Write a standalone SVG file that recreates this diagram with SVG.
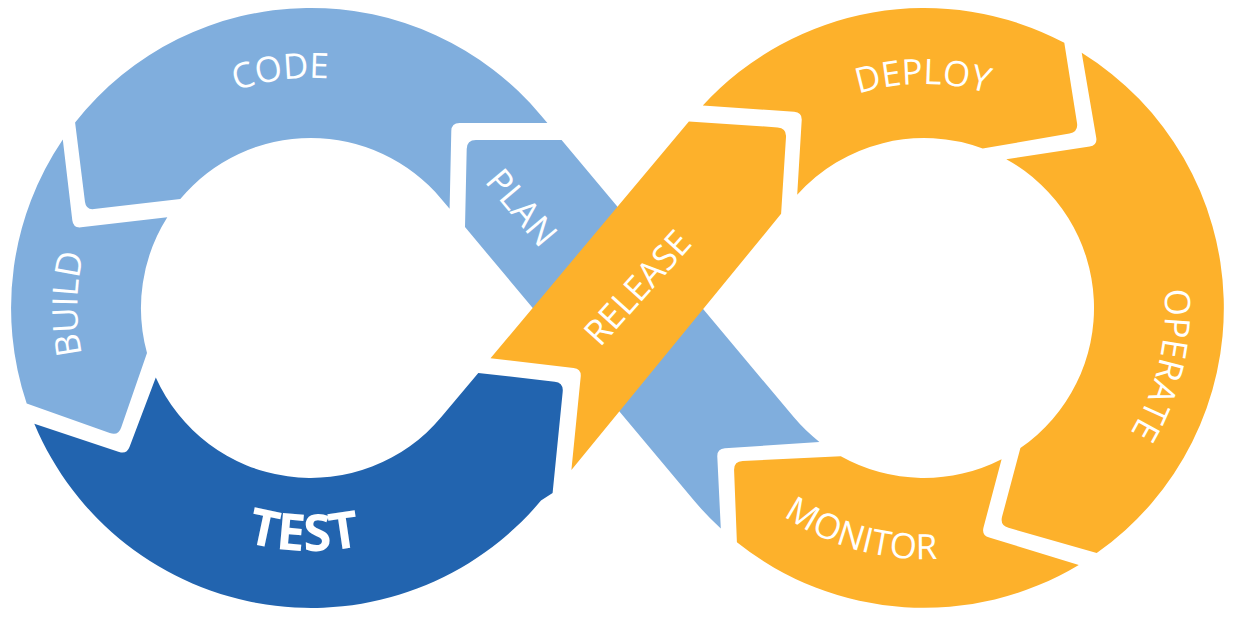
<svg xmlns="http://www.w3.org/2000/svg" width="1233" height="620" viewBox="0 0 1233 620">
<style>
.lb{fill:#80aedd}
.db{fill:#2264af}
.or{fill:#fdb12b}
.lbl{font-family:"Open Sans","DejaVu Sans",sans-serif;font-size:35px;fill:#ffffff}
.bold{font-weight:bold;font-size:51px}
</style>
<defs>
<path id="pCODE" d="M84.5,268.1 A230,230 0 0 1 537.5,268.1"/>
<path id="pBUILD" d="M270.4,538.4 A234,234 0 0 1 270.4,77.6"/>
<path id="pTEST" d="M71.7,350.2 A243,243 0 0 0 550.3,350.2"/>
<path id="pDEPLOY" d="M703.4,269.1 A224,224 0 0 1 1144.6,269.1"/>
<path id="pOPERATE" d="M1006.4,81.5 A241,241 0 0 1 924,549"/>
<path id="pMONITOR" d="M676.8,351.6 A251,251 0 0 0 1171.2,351.6"/>
</defs>
<rect width="1233" height="620" fill="#ffffff"/>
<g id="plan">
<path class="lb" d="M475.9,140 L561.6,140 L793.7,417.1 A170,170 0 0 0 819.4,441.9 L724.9,448.3 Q716.9,448.8 717.3,456.8 L720.8,528.5 A300,300 0 0 1 694,500.6 L465,227.1 L466.7,149 Q466.9,140 475.9,140 Z"/>
<text class="lbl" transform="translate(512.1,215.5) rotate(50)" text-anchor="middle">PLAN</text>
</g>
<g id="code">
<path class="lb" d="M75.1,122.5 A300,300 0 0 1 541,115.4 L547.4,123 L459.5,123 Q451.5,123 451.3,131 L449.6,208.7 L441.3,198.9 A170,170 0 0 0 180.3,199.1 L94,209.1 Q86,210 85,202.1 Z"/>
<text class="lbl"><textPath href="#pCODE" startOffset="45.4%" text-anchor="middle">CODE</textPath></text>
</g>
<g id="build">
<path class="lb" d="M62.8,139.5 L72.3,220.3 Q73.2,228.2 81.1,227.3 L167.3,217.2 A170,170 0 0 0 147,353 L121.2,427.4 Q118.3,435.9 109.8,432.9 L26.7,403.5 A300,300 0 0 1 62.8,139.5 Z"/>
<text class="lbl"><textPath href="#pBUILD" startOffset="50.6%" text-anchor="middle">BUILD</textPath></text>
</g>
<g id="test">
<path class="db" d="M34.3,423.7 L119.1,451.9 Q126.7,454.4 129.5,446.9 L155.8,377.5 A170,170 0 0 0 441.3,417.1 L478.3,372.9 L554.7,381.7 Q563.6,382.7 562.7,391.7 L552.6,493.1 L541,500.6 A300,300 0 0 1 34.3,423.7 Z"/>
<text class="lbl bold"><textPath href="#pTEST" startOffset="48.9%" text-anchor="middle">TEST</textPath></text>
</g>
<g id="release">
<path class="or" d="M490.5,358.3 L688.9,121.4 L777.6,127.4 Q786.6,128 786,137 L781.1,213.8 L571.4,470.1 L580.7,376.8 Q581.5,368.8 573.6,367.9 Z"/>
<text class="lbl" transform="translate(646.6,295.9) rotate(-48)" text-anchor="middle">RELEASE</text>
</g>
<g id="deploy">
<path class="or" d="M702.8,105.6 L794.2,111.8 Q802.2,112.3 801.7,120.3 L797.2,194.8 A170,170 0 0 1 982.7,148.6 L1069.5,133.4 Q1078.4,131.8 1077,122.9 L1064.3,42.8 A300,300 0 0 0 702.8,105.6 Z"/>
<text class="lbl"><textPath href="#pDEPLOY" startOffset="49.8%" text-anchor="middle">DEPLOY</textPath></text>
</g>
<g id="operate">
<path class="or" d="M1081.7,52.8 L1096.2,137.4 Q1097.6,145.3 1089.7,146.5 L1006.3,159.2 A170,170 0 0 1 1020.4,448 L1002.1,516.6 Q999.8,525.3 1008.5,527.8 L1096.7,553.1 A300,300 0 0 0 1081.7,52.8 Z"/>
<text class="lbl"><textPath href="#pOPERATE" startOffset="52.1%" text-anchor="middle">OPERATE</textPath></text>
</g>
<g id="monitor">
<path class="or" d="M1001.6,459.2 L983.5,527.5 Q981.5,535.2 989.2,537.5 L1078.8,564.9 A300,300 0 0 1 736.9,542.3 L734.1,470.4 Q733.7,461.4 742.7,461 L840.8,456.3 A170,170 0 0 0 1001.6,459.2 Z"/>
<text class="lbl"><textPath href="#pMONITOR" startOffset="40.3%" text-anchor="middle">MONITOR</textPath></text>
</g>
</svg>
